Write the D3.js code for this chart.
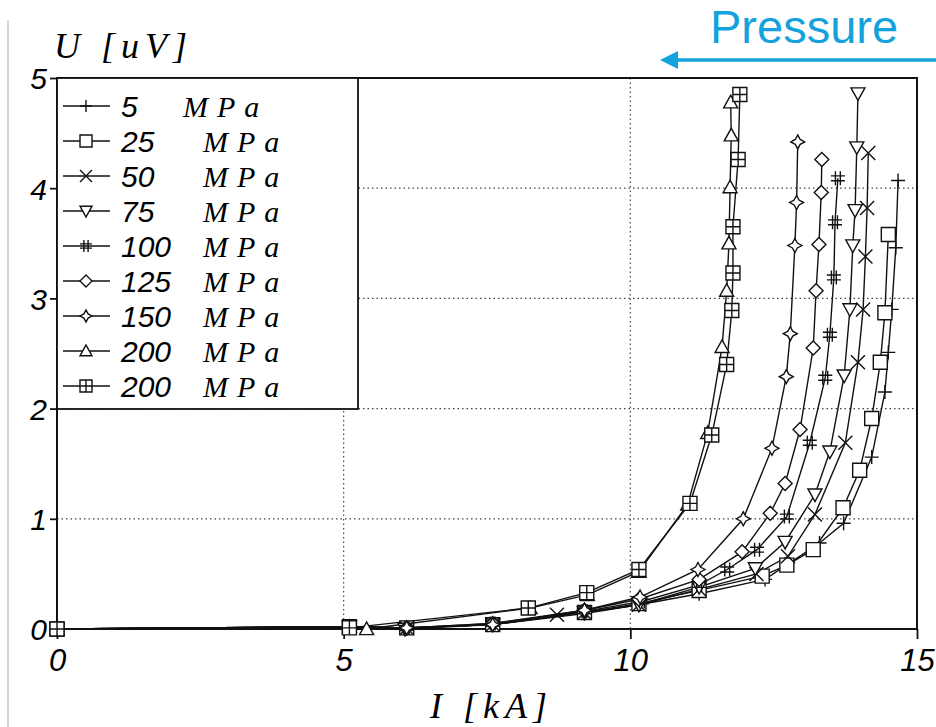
<!DOCTYPE html>
<meta charset="utf-8">
<style>
body { margin: 0; background: #fff; }
svg { display: block; }
.tick text { font-family: "Liberation Sans", Arial, sans-serif; font-style: italic; }
.grid line { stroke: #444; stroke-dasharray: 1.5 3; stroke-width: 1.2; }
.curve { fill: none; stroke: #111; stroke-width: 1.4; }
.mark { fill: #fff; stroke: #111; stroke-width: 1.4; }
.ttl { font-family: "Liberation Serif", "Times New Roman", serif; font-style: italic; font-size: 36px; letter-spacing: 6px; }
.num { font-family: "Liberation Sans", Arial, sans-serif; font-style: italic; font-size: 30px; }
.mpa { font-family: "Liberation Serif", "Times New Roman", serif; font-style: italic; font-size: 30px; letter-spacing: 9px; }
</style>
<svg width="936" height="727"></svg>
<script src="https://d3js.org/d3.v7.min.js"></script>
<script>
// pressure labels (legend order) and marker kinds
var labels  = ["5", "25", "50", "75", "100", "125", "150", "200", "200"];
var markers = ["plus", "square", "x", "tridown", "hash", "diamond", "star", "triup", "sqplus"];

// current I [kA] and voltage U [uV] for each series
var I5   = [0, 5.1, 6.1, 7.6, 9.2, 10.15, 11.2, 12.35, 13.3, 13.72, 14.21, 14.44, 14.5, 14.56, 14.63, 14.67];
var U5   = [0, 0.02, 0.01, 0.04, 0.14, 0.22, 0.32, 0.45, 0.78, 0.96, 1.56, 2.15, 2.51, 2.9, 3.46, 4.07];
var I25  = [0, 5.1, 6.1, 7.6, 9.2, 10.15, 11.2, 12.3, 12.73, 13.19, 13.71, 14.0, 14.21, 14.36, 14.44, 14.5];
var U25  = [0, 0.02, 0.01, 0.04, 0.15, 0.23, 0.35, 0.48, 0.58, 0.72, 1.1, 1.44, 1.91, 2.42, 2.87, 3.58];
var I50  = [0, 5.1, 6.1, 7.6, 8.72, 9.2, 10.15, 11.2, 12.2, 12.75, 13.22, 13.75, 13.97, 14.06, 14.1, 14.13, 14.15];
var U50  = [0, 0.02, 0.01, 0.04, 0.13, 0.15, 0.22, 0.36, 0.5, 0.66, 1.04, 1.69, 2.42, 2.9, 3.38, 3.82, 4.32];
var I75  = [0, 5.1, 6.07, 7.6, 9.2, 10.15, 11.2, 12.18, 12.7, 13.22, 13.48, 13.73, 13.83, 13.88, 13.92, 13.95, 13.97];
var U75  = [0, 0.02, 0.0, 0.04, 0.15, 0.22, 0.38, 0.55, 0.79, 1.22, 1.61, 2.3, 2.9, 3.48, 3.8, 4.37, 4.86];
var I100 = [0, 5.1, 6.1, 7.6, 9.2, 10.2, 11.2, 11.69, 12.21, 12.73, 13.13, 13.4, 13.48, 13.55, 13.57, 13.62];
var U100 = [0, 0.02, 0.01, 0.05, 0.16, 0.25, 0.4, 0.54, 0.72, 1.02, 1.69, 2.28, 2.67, 3.19, 3.69, 4.09];
var I125 = [0, 5.1, 6.1, 7.6, 9.2, 10.15, 11.2, 11.95, 12.44, 12.7, 12.96, 13.19, 13.24, 13.29, 13.33, 13.34];
var U125 = [0, 0.02, 0.01, 0.05, 0.17, 0.27, 0.45, 0.7, 1.05, 1.32, 1.81, 2.55, 3.07, 3.49, 3.96, 4.26];
var I150 = [0, 5.1, 6.1, 7.6, 9.2, 10.17, 11.18, 11.97, 12.47, 12.72, 12.79, 12.87, 12.9, 12.92];
var U150 = [0, 0.02, 0.01, 0.04, 0.17, 0.29, 0.54, 1.0, 1.64, 2.29, 2.68, 3.48, 3.87, 4.42];
var I200a = [0, 5.4, 8.25, 9.25, 10.15, 11.0, 11.35, 11.6, 11.68, 11.72, 11.74, 11.76, 11.75];
var U200a = [0, 0, 0.19, 0.31, 0.52, 1.13, 1.78, 2.56, 3.07, 3.5, 4.01, 4.48, 4.78];
var I200b = [0, 5.1, 8.22, 9.24, 10.15, 11.04, 11.42, 11.68, 11.77, 11.79, 11.79, 11.88, 11.91];
var U200b = [0, 0.01, 0.19, 0.33, 0.54, 1.14, 1.76, 2.40, 2.89, 3.23, 3.65, 4.26, 4.85];

var xTicks = [0, 5, 10, 15];
var yTicks = [0, 1, 2, 3, 4, 5];

var allI = [I5, I25, I50, I75, I100, I125, I150, I200a, I200b];
var allU = [U5, U25, U50, U75, U100, U125, U150, U200a, U200b];
var series = labels.map(function(l, k) {
    return { label: l, marker: markers[k],
             pts: allI[k].map(function(v, j) { return [v, allU[k][j]]; }) };
});

var svg = d3.select("svg");
var L = 57, R = 917, T = 78, B = 629;

var x = d3.scaleLinear().domain([0, 15]).range([L, R]);
var y = d3.scaleLinear().domain([0, 5]).range([B, T]);

// page edge line
svg.append("line").attr("x1", 8).attr("x2", 8).attr("y1", 20).attr("y2", 727)
    .attr("stroke", "#c8c8c8").attr("stroke-width", 1.5);

// grid
var grid = svg.append("g").attr("class", "grid");
grid.selectAll(".gx").data([5, 10]).enter().append("line")
    .attr("x1", function(d) { return x(d); }).attr("x2", function(d) { return x(d); })
    .attr("y1", T).attr("y2", B);
grid.selectAll(".gy").data([1, 2, 3, 4]).enter().append("line")
    .attr("x1", L).attr("x2", R)
    .attr("y1", function(d) { return y(d); }).attr("y2", function(d) { return y(d); });

// axes
var xAxis = svg.append("g").attr("transform", "translate(0," + B + ")")
    .call(d3.axisBottom(x).tickValues(xTicks).tickFormat(d3.format("d")).tickSize(10).tickPadding(10));
xAxis.selectAll("text").style("font-size", "31px");
var yAxis = svg.append("g").attr("transform", "translate(" + L + ",0)")
    .call(d3.axisLeft(y).tickValues(yTicks).tickFormat(d3.format("d")).tickSize(7).tickPadding(3));
yAxis.selectAll("text").style("font-size", "30px").attr("dy", "0.36em");
svg.selectAll(".domain").remove();
svg.selectAll(".tick line").attr("stroke", "#111").attr("stroke-width", 1.8);

// frame
svg.append("rect").attr("x", L).attr("y", T).attr("width", R - L).attr("height", B - T)
    .attr("fill", "none").attr("stroke", "#111").attr("stroke-width", 2);

// marker shapes
function markPath(kind, s) {
    switch (kind) {
        case "plus": return "M" + -s + ",0H" + s + "M0," + -s + "V" + s;
        case "x": return "M" + -s + "," + -s + "L" + s + "," + s + "M" + -s + "," + s + "L" + s + "," + -s;
        case "square": return "M" + -s + "," + -s + "H" + s + "V" + s + "H" + -s + "Z";
        case "sqplus": return "M" + -s + "," + -s + "H" + s + "V" + s + "H" + -s + "Z" +
            "M" + -s + ",0H" + s + "M0," + -s + "V" + s;
        case "tridown": return "M" + -s + "," + (-s * 0.8) + "H" + s + "L0," + s + "Z";
        case "triup": return "M" + -s + "," + (s * 0.8) + "H" + s + "L0," + -s + "Z";
        case "diamond": return "M0," + -s + "L" + s + ",0L0," + s + "L" + -s + ",0Z";
        case "star": var a = s * 0.35;
            return "M0," + -s + "L" + a + "," + -a + "L" + s + ",0L" + a + "," + a +
                   "L0," + s + "L" + -a + "," + a + "L" + -s + ",0L" + -a + "," + -a + "Z";
        case "hash": var h = s * 0.35;
            return "M" + -h + "," + -s + "V" + s + "M" + h + "," + -s + "V" + s +
                   "M" + -s + "," + -h + "H" + s + "M" + -s + "," + h + "H" + s;
    }
}

var line = d3.line().x(function(d) { return x(d[0]); }).y(function(d) { return y(d[1]); });

var plot = svg.append("g");
plot.selectAll(".curve").data(series).enter().append("path")
    .attr("class", "curve").attr("d", function(d) { return line(d.pts); });

series.forEach(function(s) {
    plot.selectAll(null).data(s.pts).enter().append("path")
        .attr("class", "mark")
        .attr("transform", function(d) { return "translate(" + x(d[0]) + "," + y(d[1]) + ")"; })
        .attr("d", markPath(s.marker, 7));
});

// legend
var lg = svg.append("g");
lg.append("rect").attr("x", L).attr("y", T).attr("width", 301).attr("height", 331)
    .attr("fill", "#fff").attr("stroke", "#111").attr("stroke-width", 1.8);
var rows = lg.selectAll(".row").data(series).enter().append("g")
    .attr("transform", function(d, i) { return "translate(0," + (106 + i * 35) + ")"; });
rows.append("line").attr("x1", 63).attr("x2", 110).attr("y1", 0).attr("y2", 0)
    .attr("stroke", "#111").attr("stroke-width", 1.4);
rows.append("path").attr("class", "mark").attr("transform", "translate(86,0)")
    .attr("d", function(d) { return markPath(d.marker, 6); });
rows.append("text").attr("class", "num").attr("x", 121).attr("y", 11)
    .text(function(d) { return d.label; });
rows.append("text").attr("class", "mpa").attr("x", function(d) { return d.label.length === 1 ? 183 : 203; })
    .attr("y", 11).text("MPa");

// axis titles
svg.append("text").attr("class", "ttl").attr("x", 54).attr("y", 58).text("U [uV]");
svg.append("text").attr("class", "ttl").attr("x", 430).attr("y", 718).text("I [kA]");

// pressure annotation
var blue = "#14a2dc";
svg.append("text").attr("x", 710).attr("y", 43)
    .style("font-family", "'Liberation Sans', Arial, sans-serif").style("font-size", "47px")
    .attr("fill", blue).text("Pressure");
svg.append("line").attr("x1", 672).attr("x2", 936).attr("y1", 60).attr("y2", 60)
    .attr("stroke", blue).attr("stroke-width", 3.5);
svg.append("path").attr("d", "M660,60L678,51L678,69Z").attr("fill", blue);
</script>
